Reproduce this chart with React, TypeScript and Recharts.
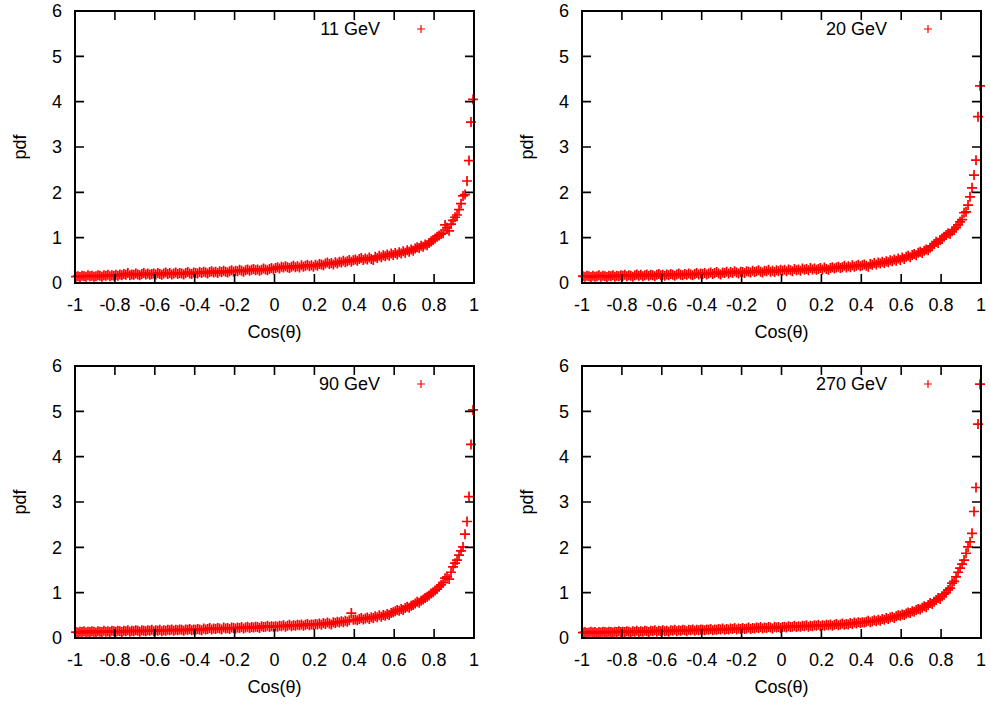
import React from "react"
import { ScatterChart, Scatter, XAxis, YAxis, Legend } from "recharts"

// bin centres in cos(theta), 0.01 wide
const COS_BINS = [
  -0.995, -0.985, -0.975, -0.965, -0.955, -0.945, -0.935, -0.925, -0.915, -0.905,
  -0.895, -0.885, -0.875, -0.865, -0.855, -0.845, -0.835, -0.825, -0.815, -0.805,
  -0.795, -0.785, -0.775, -0.765, -0.755, -0.745, -0.735, -0.725, -0.715, -0.705,
  -0.695, -0.685, -0.675, -0.665, -0.655, -0.645, -0.635, -0.625, -0.615, -0.605,
  -0.595, -0.585, -0.575, -0.565, -0.555, -0.545, -0.535, -0.525, -0.515, -0.505,
  -0.495, -0.485, -0.475, -0.465, -0.455, -0.445, -0.435, -0.425, -0.415, -0.405,
  -0.395, -0.385, -0.375, -0.365, -0.355, -0.345, -0.335, -0.325, -0.315, -0.305,
  -0.295, -0.285, -0.275, -0.265, -0.255, -0.245, -0.235, -0.225, -0.215, -0.205,
  -0.195, -0.185, -0.175, -0.165, -0.155, -0.145, -0.135, -0.125, -0.115, -0.105,
  -0.095, -0.085, -0.075, -0.065, -0.055, -0.045, -0.035, -0.025, -0.015, -0.005,
  0.005, 0.015, 0.025, 0.035, 0.045, 0.055, 0.065, 0.075, 0.085, 0.095,
  0.105, 0.115, 0.125, 0.135, 0.145, 0.155, 0.165, 0.175, 0.185, 0.195,
  0.205, 0.215, 0.225, 0.235, 0.245, 0.255, 0.265, 0.275, 0.285, 0.295,
  0.305, 0.315, 0.325, 0.335, 0.345, 0.355, 0.365, 0.375, 0.385, 0.395,
  0.405, 0.415, 0.425, 0.435, 0.445, 0.455, 0.465, 0.475, 0.485, 0.495,
  0.505, 0.515, 0.525, 0.535, 0.545, 0.555, 0.565, 0.575, 0.585, 0.595,
  0.605, 0.615, 0.625, 0.635, 0.645, 0.655, 0.665, 0.675, 0.685, 0.695,
  0.705, 0.715, 0.725, 0.735, 0.745, 0.755, 0.765, 0.775, 0.785, 0.795,
  0.805, 0.815, 0.825, 0.835, 0.845, 0.855, 0.865, 0.875, 0.885, 0.895,
  0.905, 0.915, 0.925, 0.935, 0.945, 0.955, 0.965, 0.975, 0.985, 0.995,
]

const PDF_11GEV = [
  0.14, 0.15, 0.13, 0.16, 0.15, 0.14, 0.17, 0.15, 0.16, 0.14, 0.15, 0.17, 0.16, 0.14, 0.17, 0.16, 0.18, 0.15, 0.17, 0.16,
  0.18, 0.16, 0.19, 0.17, 0.20, 0.18, 0.22, 0.17, 0.19, 0.18, 0.21, 0.19, 0.17, 0.20, 0.22, 0.19, 0.21, 0.18, 0.20, 0.21,
  0.19, 0.22, 0.20, 0.18, 0.21, 0.23, 0.20, 0.22, 0.19, 0.21, 0.23, 0.20, 0.22, 0.21, 0.19, 0.22, 0.24, 0.21, 0.20, 0.23,
  0.22, 0.21, 0.24, 0.22, 0.25, 0.23, 0.21, 0.24, 0.26, 0.23, 0.25, 0.22, 0.26, 0.24, 0.27, 0.25, 0.23, 0.26, 0.28, 0.25,
  0.27, 0.26, 0.29, 0.27, 0.25, 0.28, 0.30, 0.27, 0.29, 0.31, 0.28, 0.30, 0.27, 0.29, 0.32, 0.30, 0.28, 0.31, 0.33, 0.30,
  0.33, 0.35, 0.32, 0.36, 0.34, 0.37, 0.35, 0.33, 0.36, 0.38, 0.35, 0.37, 0.34, 0.39, 0.36, 0.38, 0.40, 0.37, 0.39, 0.36,
  0.40, 0.38, 0.42, 0.41, 0.39, 0.43, 0.45, 0.42, 0.44, 0.41, 0.46, 0.43, 0.47, 0.45, 0.49, 0.46, 0.48, 0.51, 0.47, 0.50,
  0.52, 0.49, 0.53, 0.55, 0.51, 0.54, 0.52, 0.56, 0.53, 0.51, 0.58, 0.55, 0.60, 0.57, 0.61, 0.59, 0.63, 0.60, 0.65, 0.62,
  0.66, 0.63, 0.68, 0.65, 0.70, 0.67, 0.72, 0.69, 0.74, 0.71, 0.76, 0.79, 0.77, 0.82, 0.80, 0.85, 0.83, 0.88, 0.92, 0.95,
  0.98, 1.02, 1.05, 1.08, 1.10, 1.28, 1.22, 1.15, 1.30, 1.38, 1.45, 1.50, 1.62, 1.75, 1.92, 1.95, 2.25, 2.70, 3.55, 4.05,
]

const PDF_20GEV = [
  0.15, 0.14, 0.16, 0.15, 0.13, 0.16, 0.14, 0.15, 0.17, 0.14, 0.16, 0.15, 0.13, 0.16, 0.15, 0.17, 0.14, 0.16, 0.15, 0.17,
  0.16, 0.18, 0.15, 0.17, 0.16, 0.14, 0.17, 0.19, 0.16, 0.18, 0.15, 0.17, 0.19, 0.16, 0.18, 0.17, 0.15, 0.18, 0.20, 0.17,
  0.18, 0.16, 0.19, 0.17, 0.20, 0.18, 0.16, 0.19, 0.21, 0.18, 0.17, 0.20, 0.18, 0.21, 0.19, 0.17, 0.20, 0.22, 0.19, 0.21,
  0.20, 0.22, 0.19, 0.21, 0.23, 0.20, 0.22, 0.24, 0.21, 0.19, 0.23, 0.22, 0.25, 0.21, 0.24, 0.22, 0.26, 0.23, 0.21, 0.25,
  0.24, 0.22, 0.26, 0.25, 0.23, 0.27, 0.24, 0.26, 0.28, 0.25, 0.23, 0.27, 0.26, 0.29, 0.25, 0.27, 0.24, 0.28, 0.26, 0.29,
  0.27, 0.29, 0.26, 0.30, 0.28, 0.26, 0.31, 0.28, 0.30, 0.27, 0.32, 0.29, 0.31, 0.28, 0.33, 0.30, 0.32, 0.29, 0.31, 0.33,
  0.30, 0.34, 0.31, 0.29, 0.33, 0.35, 0.32, 0.34, 0.36, 0.33, 0.35, 0.38, 0.34, 0.37, 0.35, 0.39, 0.36, 0.38, 0.40, 0.37,
  0.39, 0.41, 0.38, 0.36, 0.42, 0.40, 0.44, 0.41, 0.45, 0.43, 0.47, 0.44, 0.48, 0.46, 0.50, 0.48, 0.52, 0.49, 0.54, 0.51,
  0.56, 0.53, 0.58, 0.60, 0.57, 0.62, 0.64, 0.61, 0.67, 0.69, 0.66, 0.71, 0.74, 0.72, 0.78, 0.82, 0.86, 0.91, 0.88, 0.95,
  0.98, 1.02, 1.06, 1.10, 1.08, 1.14, 1.18, 1.22, 1.28, 1.35, 1.40, 1.55, 1.57, 1.72, 1.90, 2.10, 2.38, 2.71, 3.67, 4.35,
]

const PDF_90GEV = [
  0.13, 0.12, 0.14, 0.13, 0.15, 0.12, 0.14, 0.13, 0.15, 0.14, 0.12, 0.15, 0.14, 0.13, 0.16, 0.14, 0.15, 0.13, 0.16, 0.15,
  0.14, 0.16, 0.15, 0.13, 0.16, 0.15, 0.17, 0.14, 0.16, 0.15, 0.17, 0.16, 0.14, 0.17, 0.16, 0.15, 0.17, 0.16, 0.18, 0.15,
  0.17, 0.16, 0.18, 0.15, 0.17, 0.16, 0.18, 0.17, 0.19, 0.16, 0.18, 0.17, 0.19, 0.18, 0.16, 0.19, 0.18, 0.20, 0.17, 0.19,
  0.18, 0.20, 0.19, 0.17, 0.21, 0.19, 0.20, 0.22, 0.19, 0.21, 0.20, 0.22, 0.21, 0.19, 0.23, 0.21, 0.22, 0.20, 0.23, 0.22,
  0.21, 0.23, 0.22, 0.24, 0.21, 0.23, 0.25, 0.22, 0.24, 0.23, 0.25, 0.24, 0.22, 0.26, 0.24, 0.25, 0.27, 0.24, 0.26, 0.25,
  0.26, 0.25, 0.27, 0.26, 0.28, 0.25, 0.27, 0.29, 0.26, 0.28, 0.27, 0.29, 0.28, 0.30, 0.27, 0.29, 0.31, 0.28, 0.30, 0.29,
  0.31, 0.30, 0.32, 0.29, 0.33, 0.31, 0.34, 0.32, 0.30, 0.35, 0.33, 0.36, 0.34, 0.37, 0.35, 0.38, 0.36, 0.39, 0.55, 0.40,
  0.41, 0.39, 0.42, 0.44, 0.41, 0.43, 0.45, 0.42, 0.46, 0.44, 0.48, 0.46, 0.50, 0.47, 0.51, 0.49, 0.53, 0.51, 0.55, 0.57,
  0.59, 0.62, 0.60, 0.64, 0.62, 0.66, 0.69, 0.67, 0.71, 0.73, 0.76, 0.80, 0.78, 0.82, 0.85, 0.88, 0.91, 0.94, 0.98, 1.01,
  1.05, 1.08, 1.13, 1.17, 1.22, 1.32, 1.35, 1.30, 1.45, 1.57, 1.65, 1.72, 1.83, 1.92, 2.01, 2.29, 2.57, 3.12, 4.27, 5.03,
]

const PDF_270GEV = [
  0.12, 0.13, 0.11, 0.12, 0.14, 0.12, 0.13, 0.11, 0.13, 0.12, 0.14, 0.13, 0.12, 0.14, 0.13, 0.12, 0.14, 0.13, 0.15, 0.13,
  0.14, 0.13, 0.15, 0.14, 0.12, 0.15, 0.14, 0.16, 0.13, 0.15, 0.14, 0.16, 0.15, 0.13, 0.16, 0.15, 0.17, 0.14, 0.16, 0.15,
  0.17, 0.15, 0.16, 0.14, 0.17, 0.16, 0.18, 0.15, 0.17, 0.16, 0.18, 0.17, 0.15, 0.18, 0.17, 0.19, 0.16, 0.18, 0.17, 0.19,
  0.18, 0.17, 0.19, 0.18, 0.20, 0.17, 0.19, 0.18, 0.20, 0.19, 0.21, 0.18, 0.20, 0.19, 0.21, 0.20, 0.22, 0.19, 0.21, 0.20,
  0.22, 0.20, 0.21, 0.23, 0.20, 0.22, 0.21, 0.23, 0.22, 0.24, 0.21, 0.23, 0.22, 0.24, 0.23, 0.21, 0.25, 0.23, 0.24, 0.22,
  0.24, 0.25, 0.23, 0.26, 0.24, 0.25, 0.27, 0.24, 0.26, 0.25, 0.27, 0.26, 0.28, 0.25, 0.27, 0.26, 0.28, 0.27, 0.29, 0.26,
  0.28, 0.27, 0.29, 0.28, 0.30, 0.27, 0.29, 0.31, 0.28, 0.30, 0.32, 0.29, 0.31, 0.30, 0.33, 0.31, 0.34, 0.32, 0.35, 0.33,
  0.35, 0.34, 0.36, 0.38, 0.35, 0.37, 0.39, 0.37, 0.40, 0.38, 0.42, 0.40, 0.44, 0.42, 0.45, 0.47, 0.44, 0.48, 0.50, 0.49,
  0.52, 0.51, 0.54, 0.56, 0.55, 0.59, 0.58, 0.62, 0.64, 0.63, 0.67, 0.70, 0.68, 0.73, 0.77, 0.75, 0.80, 0.84, 0.88, 0.86,
  0.92, 0.97, 1.00, 1.06, 1.10, 1.21, 1.25, 1.35, 1.45, 1.54, 1.63, 1.72, 1.87, 2.01, 2.12, 2.31, 2.79, 3.32, 4.72, 5.60,
]

const X_TICKS = [-1, -0.8, -0.6, -0.4, -0.2, 0, 0.2, 0.4, 0.6, 0.8, 1]
const Y_TICKS = [0, 1, 2, 3, 4, 5, 6]

const PANELS = [
  { name: "11 GeV", values: PDF_11GEV, left: 0, top: 0 },
  { name: "20 GeV", values: PDF_20GEV, left: 507, top: 0 },
  { name: "90 GeV", values: PDF_90GEV, left: 0, top: 355 },
  { name: "270 GeV", values: PDF_270GEV, left: 507, top: 355 },
]

const RED = "#ff0000"
const CHART_W = 483
const CHART_H = 345
const FONT = 18
// plot box inside each chart (set by margins + axis sizes below)
const PL = 75
const PR = 474
const PT = 11
const PB = 283
const TICK = 9

function PlusMark(props: any) {
  const { cx, cy } = props
  if (cx == null || cy == null) return null
  return <path d={`M${cx - 5},${cy}h10M${cx},${cy - 5}v10`} stroke={RED} strokeWidth={1.7} fill="none" />
}

// gnuplot style: tick marks point inwards on all four sides
function XTick(props: any) {
  const { x, payload } = props
  return (
    <g>
      <path d={`M${x},${PB}v${-TICK}M${x},${PT}v${TICK}`} stroke="#000" strokeWidth={1.6} fill="none" />
      <text x={x} y={PB + 15} dy="0.71em" textAnchor="middle" fontSize={FONT} fill="#000">
        {payload.value}
      </text>
    </g>
  )
}

function YTick(props: any) {
  const { y, payload } = props
  return (
    <g>
      {payload.value === 0 && (
        // border box of the plot, drawn once with the first tick
        <path d={`M${PL},${PT}H${PR}V${PB}H${PL}Z`} stroke="#000" strokeWidth={2} fill="none" />
      )}
      <path d={`M${PL},${y}h${TICK}M${PR},${y}h${-TICK}`} stroke="#000" strokeWidth={1.6} fill="none" />
      <text x={PL - 13} y={y} dy="0.355em" textAnchor="end" fontSize={FONT} fill="#000">
        {payload.value}
      </text>
    </g>
  )
}

function GevLegend(props: any) {
  const label = props.payload?.[0]?.value
  return (
    <div style={{ position: "relative", width: CHART_W, height: 20 }}>
      <span style={{ position: "absolute", right: 103, top: 0, fontSize: FONT, lineHeight: "20px", whiteSpace: "nowrap" }}>
        {label}
      </span>
      <svg style={{ position: "absolute", left: 416, top: 5 }} width={10} height={10}>
        <path d="M1,5h8M5,1v8" stroke={RED} strokeWidth={1.2} />
      </svg>
    </div>
  )
}

function Panel({ name, values }: { name: string; values: number[] }) {
  const data = COS_BINS.map((x, i) => ({ x, y: values[i] }))
  return (
    <ScatterChart width={CHART_W} height={CHART_H} margin={{ top: PT, right: CHART_W - PR, bottom: 0, left: 0 }}>
      <XAxis
        type="number"
        dataKey="x"
        domain={[-1, 1]}
        ticks={X_TICKS}
        interval={0}
        height={CHART_H - PB}
        axisLine={false}
        tickLine={false}
        tick={XTick}
        label={{ value: "Cos(θ)", position: "insideTop", offset: 42, fontSize: FONT, fill: "#000" }}
      />
      <YAxis
        type="number"
        dataKey="y"
        domain={[0, 6]}
        ticks={Y_TICKS}
        interval={0}
        width={PL}
        axisLine={false}
        tickLine={false}
        tick={YTick}
        label={{ value: "pdf", angle: -90, position: "insideLeft", offset: 20, fontSize: FONT, fill: "#000", style: { textAnchor: "middle" } }}
      />
      <Legend
        layout="vertical"
        align="center"
        verticalAlign="middle"
        content={GevLegend}
        wrapperStyle={{ top: 19, left: 0, width: CHART_W }}
      />
      <Scatter name={name} data={data} fill={RED} shape={PlusMark} isAnimationActive={false} />
    </ScatterChart>
  )
}

export default function App() {
  return (
    <div
      style={{
        position: "absolute",
        left: 0,
        top: 0,
        width: 990,
        height: 704,
        background: "#fff",
        fontFamily: "'Liberation Sans', Arial, sans-serif",
      }}
    >
      {PANELS.map((p) => (
        <div key={p.name} style={{ position: "absolute", left: p.left, top: p.top }}>
          <Panel name={p.name} values={p.values} />
        </div>
      ))}
    </div>
  )
}
